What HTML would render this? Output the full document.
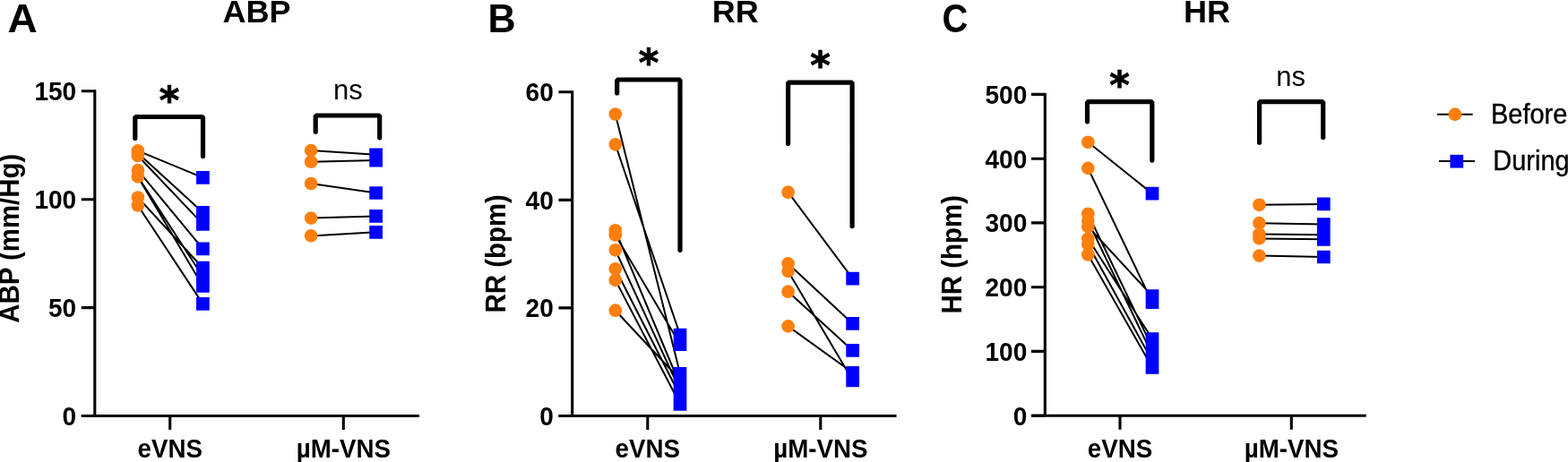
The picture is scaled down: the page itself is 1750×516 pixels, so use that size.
<!DOCTYPE html>
<html><head><meta charset="utf-8"><title>ABP RR HR</title>
<style>
html,body{margin:0;padding:0;background:#fff;}
body{width:1750px;height:516px;overflow:hidden;}
svg{display:block;}
text{font-family:'Liberation Sans', Arial, Helvetica, sans-serif;fill:#000;}
.tk{font-size:30.0px;font-weight:bold;text-anchor:end;}
.cat{font-size:29.8px;font-weight:bold;text-anchor:middle;}
.yl{font-size:30.5px;font-weight:bold;text-anchor:middle;}
.let{font-size:43px;font-weight:bold;}
.ttl{font-size:35.5px;font-weight:bold;text-anchor:middle;}
.ns{font-size:31px;text-anchor:middle;}
.ast{font-family:'DejaVu Sans',sans-serif;font-size:43px;font-weight:bold;text-anchor:middle;stroke:#000;stroke-width:0.9px;}
.lg{font-size:31.5px;stroke:#000;stroke-width:0.4px;}
</style></head>
<body>
<svg width="1750" height="516" viewBox="0 0 1750 516">
<path d="M105.8 100.3V464.5M90.8 464.5H468.0" stroke="#000" stroke-width="3.1" fill="none"/>
<path d="M90.8 101.8H105.8M90.8 222.7H105.8M90.8 343.6H105.8M90.8 464.5H105.8M189.7 464.5V480M383.3 464.5V480" stroke="#000" stroke-width="3.1" fill="none"/>
<text transform="translate(85.2 112.2) scale(0.935 1)" class="tk">150</text>
<text transform="translate(85.2 233.1) scale(0.935 1)" class="tk">100</text>
<text transform="translate(85.2 354) scale(0.935 1)" class="tk">50</text>
<text transform="translate(85.2 474.9) scale(0.935 1)" class="tk">0</text>
<text transform="translate(189.7 510.5) scale(0.93 1)" class="cat">eVNS</text>
<text transform="translate(383.3 510.5) scale(0.93 1)" class="cat">µM-VNS</text>
<text transform="translate(21.3 266.3) rotate(-90) scale(0.965 1)" class="yl">ABP (mm/Hg)</text>
<path d="M153.9 168.4L226.4 198.4M153.9 171L226.4 237.3M153.9 174L226.4 250.4M153.9 190.2L226.4 277.9M153.9 197.4L226.4 309M153.9 197.4L226.4 319.5M153.9 220.5L226.4 299.2M153.9 229.5L226.4 339.4M347.1 168.1L419.6 172.8M347.1 180.7L419.6 179.1M347.1 205L419.6 215.5M347.1 243.6L419.6 241.4M347.1 263.4L419.6 259.3" stroke="#000" stroke-width="2.0" fill="none"/>
<path d="M146.55 168.4a7.35 7.35 0 1 0 14.7 0a7.35 7.35 0 1 0 -14.7 0zM146.55 171a7.35 7.35 0 1 0 14.7 0a7.35 7.35 0 1 0 -14.7 0zM146.55 174a7.35 7.35 0 1 0 14.7 0a7.35 7.35 0 1 0 -14.7 0zM146.55 190.2a7.35 7.35 0 1 0 14.7 0a7.35 7.35 0 1 0 -14.7 0zM146.55 197.4a7.35 7.35 0 1 0 14.7 0a7.35 7.35 0 1 0 -14.7 0zM146.55 197.4a7.35 7.35 0 1 0 14.7 0a7.35 7.35 0 1 0 -14.7 0zM146.55 220.5a7.35 7.35 0 1 0 14.7 0a7.35 7.35 0 1 0 -14.7 0zM146.55 229.5a7.35 7.35 0 1 0 14.7 0a7.35 7.35 0 1 0 -14.7 0zM339.75 168.1a7.35 7.35 0 1 0 14.7 0a7.35 7.35 0 1 0 -14.7 0zM339.75 180.7a7.35 7.35 0 1 0 14.7 0a7.35 7.35 0 1 0 -14.7 0zM339.75 205a7.35 7.35 0 1 0 14.7 0a7.35 7.35 0 1 0 -14.7 0zM339.75 243.6a7.35 7.35 0 1 0 14.7 0a7.35 7.35 0 1 0 -14.7 0zM339.75 263.4a7.35 7.35 0 1 0 14.7 0a7.35 7.35 0 1 0 -14.7 0z" fill="#FF7F0E"/>
<path d="M219.05 191.05h14.7v14.7h-14.7zM219.05 229.95h14.7v14.7h-14.7zM219.05 243.05h14.7v14.7h-14.7zM219.05 270.55h14.7v14.7h-14.7zM219.05 301.65h14.7v14.7h-14.7zM219.05 312.15h14.7v14.7h-14.7zM219.05 291.85h14.7v14.7h-14.7zM219.05 332.05h14.7v14.7h-14.7zM412.25 165.45h14.7v14.7h-14.7zM412.25 171.75h14.7v14.7h-14.7zM412.25 208.15h14.7v14.7h-14.7zM412.25 234.05h14.7v14.7h-14.7zM412.25 251.95h14.7v14.7h-14.7z" fill="#0000FF"/>
<path d="M150.8 154.5V130.5H226.5V174.5" stroke="#000" stroke-width="5.2" fill="none" stroke-linecap="round" stroke-linejoin="bevel"/>
<text x="188.9" y="126.6" class="ast">*</text>
<path d="M352.2 147.2V129H423.7V153.8" stroke="#000" stroke-width="5.2" fill="none" stroke-linecap="round" stroke-linejoin="bevel"/>
<text x="388.3" y="111.2" class="ns">ns</text>
<path d="M638.7 101.3V464.5M623.5 464.5H1000.5" stroke="#000" stroke-width="3.1" fill="none"/>
<path d="M623.5 102.8H638.7M623.5 223.4H638.7M623.5 343.9H638.7M623.5 464.5H638.7M722.8 464.5V480M915.8 464.5V480" stroke="#000" stroke-width="3.1" fill="none"/>
<text transform="translate(617.8 113.2) scale(0.935 1)" class="tk">60</text>
<text transform="translate(617.8 233.8) scale(0.935 1)" class="tk">40</text>
<text transform="translate(617.8 354.3) scale(0.935 1)" class="tk">20</text>
<text transform="translate(617.8 474.9) scale(0.935 1)" class="tk">0</text>
<text transform="translate(722.8 510.5) scale(0.93 1)" class="cat">eVNS</text>
<text transform="translate(915.8 510.5) scale(0.93 1)" class="cat">µM-VNS</text>
<text transform="translate(563.8 283.3) rotate(-90) scale(0.965 1)" class="yl">RR (bpm)</text>
<path d="M686.8 127.5L759.0 417.3M686.8 161.3L759.0 374M686.8 257.3L759.0 430M686.8 262.5L759.0 384.6M686.8 279.3L759.0 436M686.8 300.3L759.0 442M686.8 312.9L759.0 451.3M686.8 346.7L759.0 424M879.6 214.7L951.6 311.1M879.6 294.4L951.6 361.4M879.6 302.9L951.6 424.8M879.6 325.7L951.6 391.4M879.6 364.4L951.6 416.3" stroke="#000" stroke-width="2.0" fill="none"/>
<path d="M679.45 127.5a7.35 7.35 0 1 0 14.7 0a7.35 7.35 0 1 0 -14.7 0zM679.45 161.3a7.35 7.35 0 1 0 14.7 0a7.35 7.35 0 1 0 -14.7 0zM679.45 257.3a7.35 7.35 0 1 0 14.7 0a7.35 7.35 0 1 0 -14.7 0zM679.45 262.5a7.35 7.35 0 1 0 14.7 0a7.35 7.35 0 1 0 -14.7 0zM679.45 279.3a7.35 7.35 0 1 0 14.7 0a7.35 7.35 0 1 0 -14.7 0zM679.45 300.3a7.35 7.35 0 1 0 14.7 0a7.35 7.35 0 1 0 -14.7 0zM679.45 312.9a7.35 7.35 0 1 0 14.7 0a7.35 7.35 0 1 0 -14.7 0zM679.45 346.7a7.35 7.35 0 1 0 14.7 0a7.35 7.35 0 1 0 -14.7 0zM872.25 214.7a7.35 7.35 0 1 0 14.7 0a7.35 7.35 0 1 0 -14.7 0zM872.25 294.4a7.35 7.35 0 1 0 14.7 0a7.35 7.35 0 1 0 -14.7 0zM872.25 302.9a7.35 7.35 0 1 0 14.7 0a7.35 7.35 0 1 0 -14.7 0zM872.25 325.7a7.35 7.35 0 1 0 14.7 0a7.35 7.35 0 1 0 -14.7 0zM872.25 364.4a7.35 7.35 0 1 0 14.7 0a7.35 7.35 0 1 0 -14.7 0z" fill="#FF7F0E"/>
<path d="M751.65 409.95h14.7v14.7h-14.7zM751.65 366.65h14.7v14.7h-14.7zM751.65 422.65h14.7v14.7h-14.7zM751.65 377.25h14.7v14.7h-14.7zM751.65 428.65h14.7v14.7h-14.7zM751.65 434.65h14.7v14.7h-14.7zM751.65 443.95h14.7v14.7h-14.7zM751.65 416.65h14.7v14.7h-14.7zM944.25 303.75h14.7v14.7h-14.7zM944.25 354.05h14.7v14.7h-14.7zM944.25 417.45h14.7v14.7h-14.7zM944.25 384.05h14.7v14.7h-14.7zM944.25 408.95h14.7v14.7h-14.7z" fill="#0000FF"/>
<path d="M688.7 104V89.0H759.0V279.3" stroke="#000" stroke-width="5.2" fill="none" stroke-linecap="round" stroke-linejoin="bevel"/>
<text x="724.0" y="85.3" class="ast">*</text>
<path d="M879.6 160.3V92.1H951.1V252.6" stroke="#000" stroke-width="5.2" fill="none" stroke-linecap="round" stroke-linejoin="bevel"/>
<text x="915.4" y="88.0" class="ast">*</text>
<path d="M1166.3 103.9V464.2M1151.0 464.2H1524.7" stroke="#000" stroke-width="3.1" fill="none"/>
<path d="M1151.0 105.4H1166.3M1151.0 177.2H1166.3M1151.0 248.9H1166.3M1151.0 320.7H1166.3M1151.0 392.4H1166.3M1151.0 464.2H1166.3M1250.0 464.2V479.7M1441.3 464.2V479.7" stroke="#000" stroke-width="3.1" fill="none"/>
<text transform="translate(1146.3 115.8) scale(0.935 1)" class="tk">500</text>
<text transform="translate(1146.3 187.6) scale(0.935 1)" class="tk">400</text>
<text transform="translate(1146.3 259.3) scale(0.935 1)" class="tk">300</text>
<text transform="translate(1146.3 331.1) scale(0.935 1)" class="tk">200</text>
<text transform="translate(1146.3 402.8) scale(0.935 1)" class="tk">100</text>
<text transform="translate(1146.3 474.6) scale(0.935 1)" class="tk">0</text>
<text transform="translate(1250.0 510.5) scale(0.93 1)" class="cat">eVNS</text>
<text transform="translate(1441.3 510.5) scale(0.93 1)" class="cat">µM-VNS</text>
<text transform="translate(1073 284.2) rotate(-90) scale(0.965 1)" class="yl">HR (hpm)</text>
<path d="M1214.3 158.8L1286.0 216.2M1214.3 187.9L1286.0 337.6M1214.3 238.8L1286.0 388M1214.3 247L1286.0 396M1214.3 253L1286.0 330.6M1214.3 266.5L1286.0 378.5M1214.3 273L1286.0 403M1214.3 284.5L1286.0 410.4M1405.4 228.8L1477.3 227.9M1405.4 249.2L1477.3 250.5M1405.4 261.5L1477.3 262.2M1405.4 266.4L1477.3 267.3M1405.4 285.6L1477.3 287" stroke="#000" stroke-width="2.0" fill="none"/>
<path d="M1206.95 158.8a7.35 7.35 0 1 0 14.7 0a7.35 7.35 0 1 0 -14.7 0zM1206.95 187.9a7.35 7.35 0 1 0 14.7 0a7.35 7.35 0 1 0 -14.7 0zM1206.95 238.8a7.35 7.35 0 1 0 14.7 0a7.35 7.35 0 1 0 -14.7 0zM1206.95 247a7.35 7.35 0 1 0 14.7 0a7.35 7.35 0 1 0 -14.7 0zM1206.95 253a7.35 7.35 0 1 0 14.7 0a7.35 7.35 0 1 0 -14.7 0zM1206.95 266.5a7.35 7.35 0 1 0 14.7 0a7.35 7.35 0 1 0 -14.7 0zM1206.95 273a7.35 7.35 0 1 0 14.7 0a7.35 7.35 0 1 0 -14.7 0zM1206.95 284.5a7.35 7.35 0 1 0 14.7 0a7.35 7.35 0 1 0 -14.7 0zM1398.05 228.8a7.35 7.35 0 1 0 14.7 0a7.35 7.35 0 1 0 -14.7 0zM1398.05 249.2a7.35 7.35 0 1 0 14.7 0a7.35 7.35 0 1 0 -14.7 0zM1398.05 261.5a7.35 7.35 0 1 0 14.7 0a7.35 7.35 0 1 0 -14.7 0zM1398.05 266.4a7.35 7.35 0 1 0 14.7 0a7.35 7.35 0 1 0 -14.7 0zM1398.05 285.6a7.35 7.35 0 1 0 14.7 0a7.35 7.35 0 1 0 -14.7 0z" fill="#FF7F0E"/>
<path d="M1278.65 208.85h14.7v14.7h-14.7zM1278.65 330.25h14.7v14.7h-14.7zM1278.65 380.65h14.7v14.7h-14.7zM1278.65 388.65h14.7v14.7h-14.7zM1278.65 323.25h14.7v14.7h-14.7zM1278.65 371.15h14.7v14.7h-14.7zM1278.65 395.65h14.7v14.7h-14.7zM1278.65 403.05h14.7v14.7h-14.7zM1469.95 220.55h14.7v14.7h-14.7zM1469.95 243.15h14.7v14.7h-14.7zM1469.95 254.85h14.7v14.7h-14.7zM1469.95 259.95h14.7v14.7h-14.7zM1469.95 279.65h14.7v14.7h-14.7z" fill="#0000FF"/>
<path d="M1213.5 135.8V113.7H1285.8V179.1" stroke="#000" stroke-width="5.2" fill="none" stroke-linecap="round" stroke-linejoin="bevel"/>
<text x="1249.5" y="109.9" class="ast">*</text>
<path d="M1405.6 159.2V113.7H1476.7V153.4" stroke="#000" stroke-width="5.2" fill="none" stroke-linecap="round" stroke-linejoin="bevel"/>
<text x="1440.6" y="95.8" class="ns">ns</text>
<text transform="translate(8.6 35.6) scale(1.07 1.035)" class="let">A</text>
<text transform="translate(544.6 35.6) scale(1.0 1.035)" class="let">B</text>
<text transform="translate(1051.5 35.9) scale(0.93 1.035)" class="let">C</text>
<text transform="translate(286.5 25.3) scale(1.015 1)" class="ttl">ABP</text>
<text transform="translate(820.8 25.4) scale(1.015 1)" class="ttl">RR</text>
<text transform="translate(1347 25.1) scale(1.015 1)" class="ttl">HR</text>
<path d="M1604 127.7H1643.7M1606 180.1H1646" stroke="#000" stroke-width="2.0"/>
<path d="M1616.55 127.7a7.35 7.35 0 1 0 14.7 0a7.35 7.35 0 1 0 -14.7 0z" fill="#FF7F0E"/>
<path d="M1618.45 172.85h14.7v14.7h-14.7z" fill="#0000FF"/>
<text transform="translate(1664 137.9) scale(0.92 1)" class="lg">Before</text>
<text transform="translate(1666.3 190.2) scale(0.92 1)" class="lg">During</text>
</svg>
</body></html>
